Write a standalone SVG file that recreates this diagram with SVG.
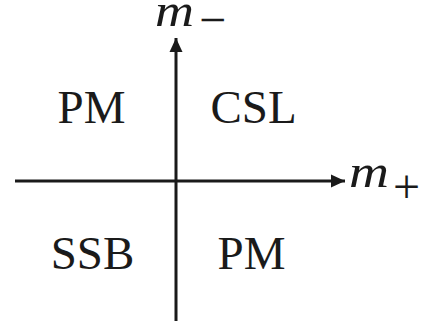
<svg xmlns="http://www.w3.org/2000/svg" width="425" height="327" viewBox="0 0 425 327">
<style>
.ax{stroke:#1a1a1a;stroke-width:3;fill:none}
.lbl{font-family:"Liberation Serif","Times New Roman",serif;font-size:47px;fill:#1a1a1a;text-anchor:middle}
.var{font-family:"Liberation Serif","Times New Roman",serif;font-size:46px;fill:#1a1a1a;font-style:italic}
.sub{font-family:"Liberation Serif","Times New Roman",serif;font-size:48px;fill:#1a1a1a}
</style>
<defs>
<marker id="arr" markerUnits="userSpaceOnUse" markerWidth="16" markerHeight="16" refX="14" refY="7" orient="auto">
<polygon points="0,0.5 14,7 0,13.5" fill="#1a1a1a"/>
</marker>
</defs>
<rect width="425" height="327" fill="#fff"/>
<g id="connectors">
<line id="axis-h" class="ax" x1="15" y1="181" x2="345" y2="181" marker-end="url(#arr)"/>
<line id="axis-v" class="ax" x1="176" y1="321" x2="176" y2="38" marker-end="url(#arr)"/>
</g>
<g id="label-m-minus"><text class="var" x="155" y="26" textLength="39" lengthAdjust="spacingAndGlyphs">m</text><text class="sub" x="199" y="36">−</text></g>
<g id="label-m-plus"><text class="var" x="349" y="187" textLength="40" lengthAdjust="spacingAndGlyphs">m</text><text class="sub" x="393" y="203">+</text></g>
<g id="q-pm-top"><text class="lbl" x="91.5" y="123">PM</text></g>
<g id="q-csl"><text class="lbl" x="253.5" y="123">CSL</text></g>
<g id="q-ssb"><text class="lbl" x="92.5" y="269">SSB</text></g>
<g id="q-pm-bottom"><text class="lbl" x="251.5" y="269">PM</text></g>
</svg>
